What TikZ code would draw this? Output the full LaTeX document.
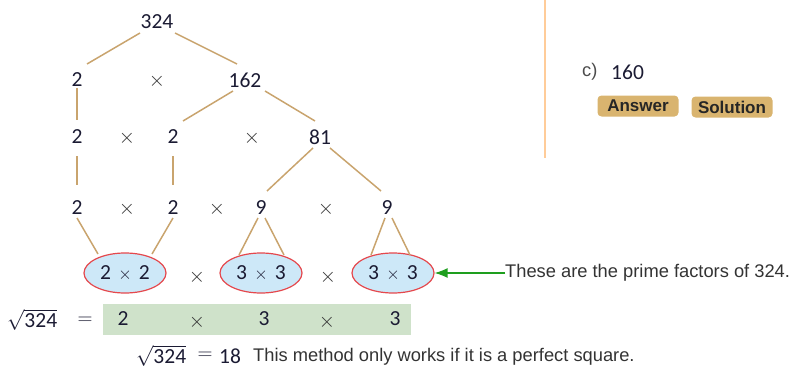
\documentclass[tikz,border=0pt]{standalone}
\usepackage{fontspec}
\setmainfont{Carlito}
\newfontfamily\arialfont{Liberation Sans}
\usetikzlibrary{arrows.meta,shapes.geometric}
\definecolor{branch}{HTML}{C9A46E}
\definecolor{ellfill}{HTML}{CDE8F8}
\definecolor{ellline}{HTML}{E5484D}
\definecolor{boxfill}{HTML}{CFE2CA}
\definecolor{arrowgreen}{HTML}{1E9E1E}
\definecolor{divider}{HTML}{FFCC99}
\definecolor{btn}{HTML}{D9B46F}
\definecolor{numcol}{HTML}{1B1B33}
\newcommand{\tms}{\ensuremath{\times}}
\begin{document}
\begin{tikzpicture}[x=1pt,y=-1pt,
  num/.style={inner sep=0pt,font=\fontsize{21.5}{21.5}\selectfont,text=numcol},
  times/.style={inner sep=0pt,font=\fontsize{20}{20}\selectfont,text=black!80},
  branchline/.style={draw=branch,line width=1.5pt},
  factor/.style={ellipse,draw=ellline,fill=ellfill,line width=1.2pt,minimum width=82pt,minimum height=40pt,inner sep=0pt,font=\fontsize{21.5}{21.5}\selectfont,text=numcol},
  note/.style={inner sep=0pt,anchor=west,font=\arialfont\fontsize{18.3}{18.3}\selectfont,text=black!80},
  button/.style={fill=btn,rounded corners=4pt,minimum width=81pt,minimum height=21pt,inner sep=0pt,font=\arialfont\bfseries\fontsize{17}{17}\selectfont,text=black!85}
]
\useasboundingbox (0,0) rectangle (790,369);

% divider
\draw[divider,line width=2pt] (545,0) -- (545,158);

% tree numbers
\node[num] (n324) at (157,22) {324};
\node[num] (a2) at (77,80) {2};
\node[times] (x1) at (157,81) {\tms};
\node[num] (n162) at (245,80) {162};
\node[num] (b2) at (77,137) {2};
\node[times] (x2) at (127,138) {\tms};
\node[num] (c2) at (173,137) {2};
\node[times] (x3) at (252,138) {\tms};
\node[num] (n81) at (320,137) {81};
\node[num] (d2) at (77,208) {2};
\node[times] (x4) at (127,209) {\tms};
\node[num] (e2) at (173,208) {2};
\node[times] (x5) at (217,209) {\tms};
\node[num] (f9) at (261,208) {9};
\node[times] (x6) at (326,209) {\tms};
\node[num] (g9) at (387,208) {9};

% ellipses
\node[factor] (E1) at (125,273) {2\,\,{\fontsize{19}{19}\selectfont\tms}\,\,2};
\node[times] (x7) at (197,277) {\tms};
\node[factor] (E2) at (261,273) {3\,\,{\fontsize{19}{19}\selectfont\tms}\,\,3};
\node[times] (x8) at (328,277) {\tms};
\node[factor] (E3) at (393,273) {3\,\,{\fontsize{19}{19}\selectfont\tms}\,\,3};

% branches
\draw[branchline] ([shift={(-17,11)}]n324.center) -- ([shift={(10,-16)}]a2.center);
\draw[branchline] ([shift={(18,11)}]n324.center) -- ([shift={(-8,-16)}]n162.center);
\draw[branchline] ([shift={(0,8)}]a2.center) -- ([shift={(0,-17)}]b2.center);
\draw[branchline] ([shift={(-12,11)}]n162.center) -- ([shift={(10,-16)}]c2.center);
\draw[branchline] ([shift={(20,11)}]n162.center) -- ([shift={(-5,-16)}]n81.center);
\draw[branchline] ([shift={(0,19)}]b2.center) -- ([shift={(0,-23)}]d2.center);
\draw[branchline] ([shift={(0,19)}]c2.center) -- ([shift={(0,-23)}]e2.center);
\draw[branchline] ([shift={(-7,11)}]n81.center) -- ([shift={(6,-17)}]f9.center);
\draw[branchline] ([shift={(10,11)}]n81.center) -- ([shift={(-6,-17)}]g9.center);
\draw[branchline] ([shift={(0,10)}]d2.center) -- ([shift={(-27,-19)}]E1.center);
\draw[branchline] ([shift={(0,10)}]e2.center) -- ([shift={(27,-19)}]E1.center);
\draw[branchline] ([shift={(-3,10)}]f9.center) -- ([shift={(-22,-18)}]E2.center);
\draw[branchline] ([shift={(4,10)}]f9.center) -- ([shift={(23,-18)}]E2.center);
\draw[branchline] ([shift={(-2,10)}]g9.center) -- ([shift={(-22,-18)}]E3.center);
\draw[branchline] ([shift={(5,10)}]g9.center) -- ([shift={(17,-18)}]E3.center);

% arrow and note
\node[note] (primes) at (505,273) {These are the prime factors of 324.};
\draw[arrowgreen,line width=1.3pt,-{Latex[length=13pt,width=10pt]}] (primes.west) -- (E3.east);

% sqrt row
\node[num,anchor=west] (sq1) at (7,320) {$\sqrt{\mbox{\fontsize{21.5}{21.5}\selectfont 324}}$};
\node[num] (eq1) at (85,321) {$=$};
\fill[boxfill] (103,304) rectangle (411,335);
\node[num] (r2) at (123,319) {2};
\node[times] (rx1) at (197,322) {\tms};
\node[num] (r3a) at (264,319) {3};
\node[times] (rx2) at (327,322) {\tms};
\node[num] (r3b) at (395,319) {3};

% result line
\node[num,anchor=west] (sq2) at (136,356) {$\sqrt{\mbox{\fontsize{21.5}{21.5}\selectfont 324}}$};
\node[num] (eq2) at (205,356) {$=$};
\node[num,anchor=west] (res) at (219,356) {18};
\node[note] (method) at (253,357) {This method only works if it is a perfect square.};

% right panel
\node[note,text=black!70] (clabel) at (582,72) {c)};
\node[num,anchor=west] (c160) at (611,72) {160};
\node[button] (ans) at (638,106) {Answer};
\node[button] (sol) at (732,107) {Solution};
\end{tikzpicture}
\end{document}
